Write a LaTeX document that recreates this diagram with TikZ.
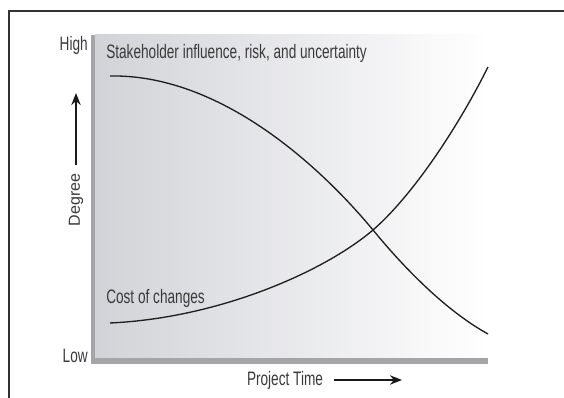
\documentclass[tikz,border=0pt]{standalone}
\usepackage{fontspec}
\setmainfont{Liberation Sans}
\newfontfamily\narrowfont[FakeStretch=0.70]{Liberation Sans}
\usetikzlibrary{arrows.meta}
\definecolor{plotgray}{RGB}{210,211,216}
\definecolor{bargray}{RGB}{165,165,168}
\definecolor{inkgray}{RGB}{58,58,58}
\begin{document}
\begin{tikzpicture}[x=0.75pt,y=0.75pt,
    lbl/.style={font=\narrowfont\fontsize{14.6}{16}\selectfont, text=inkgray, inner sep=0pt},
    curve/.style={line width=1pt, black!88},
    bigarrow/.style={-{Stealth[length=9pt,width=7pt]}, line width=1.5pt, black!90}]
  \useasboundingbox (0,0) rectangle (564,398);
  % frame
  \draw[line width=1pt, black!80] (9,-5) -- (9,387) -- (570,387);
  % plot area
  \shade[left color=plotgray, right color=white] (95,40) rectangle (488,363);
  \fill[bargray] (91,34) rectangle (95,363);
  \fill[bargray] (91,34) rectangle (488,40);
  % scale labels
  \node[lbl, anchor=east] (high) at (88,353) {High};
  \node[lbl, anchor=east] (low) at (88,42) {Low};
  \node[rotate=90, font=\fontsize{12}{14}\selectfont, text=inkgray, inner sep=0pt] (degree) at (76,198) {Degree};
  \coordinate (degtip) at (76,305);
  \draw[bigarrow] ([yshift=6pt]degree.east) -- (degtip);
  \node[lbl] (ptime) at (285,18) {Project Time};
  \coordinate (ptip) at (402,18);
  \draw[bigarrow] ([xshift=8pt]ptime.east) -- (ptip);
  % curves
  \coordinate (cross) at (373,168);
  \draw[curve] (110,322) .. controls (220,324) and (320,232) .. (cross)
    .. controls (410,123) and (450,85) .. (488,64);
  \draw[curve] (110,75) .. controls (220,80) and (325,127) .. (cross)
    .. controls (410,200) and (455,265) .. (488,331);
  \node[lbl, anchor=west] (risk) at (106,345) {Stakeholder influence, risk, and uncertainty};
  \node[lbl, anchor=west] (cost) at (106,100) {Cost of changes};
\end{tikzpicture}
\end{document}
